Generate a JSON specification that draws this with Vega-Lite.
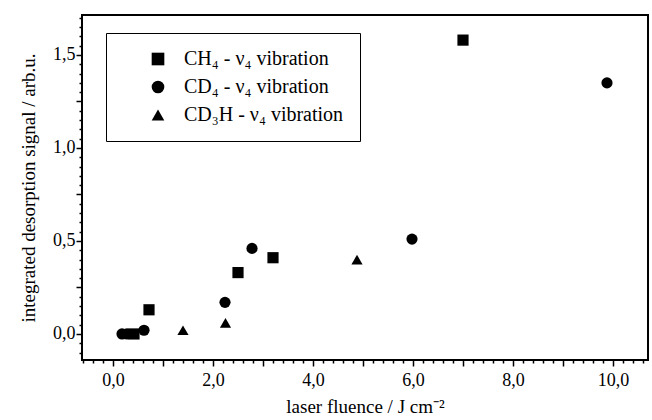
{
  "$schema": "https://vega.github.io/schema/vega-lite/v6.json",
  "width": 566,
  "height": 345,
  "autosize": {"type": "none"},
  "padding": {"left": 82, "top": 15, "right": 4, "bottom": 60},
  "background": "white",
  "config": {
    "view": {"stroke": "black", "strokeWidth": 2},
    "axis": {
      "domain": false, "grid": false, "tickColor": "#000000", "tickWidth": 1.5,
      "labelFont": "Liberation Serif", "labelFontSize": 18, "labelColor": "black",
      "titleFont": "Liberation Serif", "titleFontSize": 19, "titleFontWeight": "normal", "titleColor": "black"
    },
    "legend": {"labelFont": "Liberation Serif", "labelFontSize": 20, "labelColor": "black"}
  },
  "data": {"values": [
    {"species": "CH4", "fluence": 0.42, "signal": 0.0},
    {"species": "CH4", "fluence": 0.72, "signal": 0.13},
    {"species": "CH4", "fluence": 2.5, "signal": 0.33},
    {"species": "CH4", "fluence": 3.2, "signal": 0.41},
    {"species": "CH4", "fluence": 7.0, "signal": 1.58},
    {"species": "CD4", "fluence": 0.18, "signal": 0.0},
    {"species": "CD4", "fluence": 0.28, "signal": 0.0},
    {"species": "CD4", "fluence": 0.62, "signal": 0.02},
    {"species": "CD4", "fluence": 2.24, "signal": 0.17},
    {"species": "CD4", "fluence": 2.78, "signal": 0.46},
    {"species": "CD4", "fluence": 5.98, "signal": 0.51},
    {"species": "CD4", "fluence": 9.88, "signal": 1.35},
    {"species": "CD3H", "fluence": 1.4, "signal": 0.02},
    {"species": "CD3H", "fluence": 2.25, "signal": 0.06},
    {"species": "CD3H", "fluence": 4.88, "signal": 0.4}
  ]},
  "resolve": {"axis": {"x": "independent", "y": "independent"}},
  "layer": [
    {
      "mark": {"type": "point", "filled": true, "opacity": 1, "color": "black", "size": 125},
      "encoding": {
        "x": {"field": "fluence", "type": "quantitative",
          "scale": {"domain": [-0.62, 10.7], "nice": false, "zero": false},
          "axis": {"orient": "bottom", "values": [0, 1, 2, 3, 4, 5, 6, 7, 8, 9, 10], "tickSize": 6, "labelPadding": 5,
            "labelExpr": "datum.value % 2 == 0 ? replace(format(datum.value, '.1f'), '.', ',') : ''",
            "title": "laser fluence / J cm⁻²", "titlePadding": 8}},
        "y": {"field": "signal", "type": "quantitative",
          "scale": {"domain": [-0.14, 1.715], "nice": false, "zero": false},
          "axis": {"orient": "left", "values": [0, 0.25, 0.5, 0.75, 1, 1.25, 1.5], "tickSize": 6, "labelPadding": 1,
            "labelExpr": "(datum.value * 2) % 1 == 0 ? replace(format(datum.value, '.1f'), '.', ',') : ''",
            "title": "integrated desorption signal / arb.u.", "titlePadding": 14}},
        "shape": {"field": "species", "type": "nominal",
          "scale": {"domain": ["CH4", "CD4", "CD3H"], "range": ["square", "circle", "triangle-up"]},
          "legend": {"orient": "none", "legendX": 24, "legendY": 18, "title": null,
            "strokeColor": "black", "padding": 16, "symbolOffset": 26,
            "symbolSize": 160, "symbolFillColor": "black", "symbolStrokeColor": "black",
            "rowPadding": 8, "labelOffset": 16,
            "labelExpr": "datum.value == 'CH4' ? 'CH₄ - ν₄ vibration' : datum.value == 'CD4' ? 'CD₄ - ν₄ vibration' : 'CD₃H - ν₄ vibration'"}}
      }
    },
    {
      "mark": {"type": "point", "opacity": 0},
      "encoding": {
        "x": {"field": "fluence", "type": "quantitative", "scale": {"domain": [-0.62, 10.7], "nice": false, "zero": false},
          "axis": {"orient": "bottom", "labels": false, "title": null, "tickSize": 3,
            "values": [-0.6, -0.4, -0.2, 0.2, 0.4, 0.6, 0.8, 1.2, 1.4, 1.6, 1.8, 2.2, 2.4, 2.6, 2.8, 3.2, 3.4, 3.6, 3.8, 4.2, 4.4, 4.6, 4.8, 5.2, 5.4, 5.6, 5.8, 6.2, 6.4, 6.6, 6.8, 7.2, 7.4, 7.6, 7.8, 8.2, 8.4, 8.6, 8.8, 9.2, 9.4, 9.6, 9.8, 10.2, 10.4, 10.6]}},
        "y": {"field": "signal", "type": "quantitative", "scale": {"domain": [-0.14, 1.715], "nice": false, "zero": false},
          "axis": {"orient": "left", "labels": false, "title": null, "tickSize": 3,
            "values": [-0.1, -0.05, 0.05, 0.1, 0.15, 0.2, 0.3, 0.35, 0.4, 0.45, 0.55, 0.6, 0.65, 0.7, 0.8, 0.85, 0.9, 0.95, 1.05, 1.1, 1.15, 1.2, 1.3, 1.35, 1.4, 1.45, 1.55, 1.6, 1.65, 1.7]}}
      }
    }
  ]
}
